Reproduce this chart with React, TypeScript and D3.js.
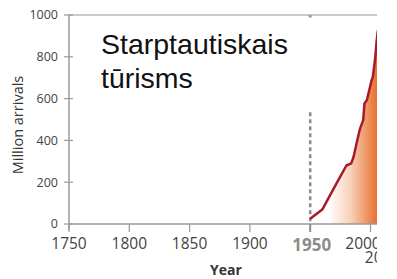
import React from "react";
import * as d3 from "d3";

const yTicks = [0, 200, 400, 600, 800, 1000];
const xTicks = [1750, 1800, 1850, 1900, 1950, 2000];
const xTickLabels = ["1750", "1800", "1850", "1900", "1950", "2000"];
const secondRowLabel = "2010";
const secondRowYear = 2010;
const years = [1950, 1960, 1970, 1980, 1984, 1986, 1989, 1991, 1994, 1995, 1997, 2000, 2001, 2002, 2004, 2005, 2006, 2008];
const arrivals = [25, 69, 175, 280, 290, 322, 400, 450, 498, 577, 593, 665, 689, 705, 800, 870, 920, 980];
const titleLines = ["Starptautiskais", "tūrisms"];
const yLabel = "Million arrivals";
const xLabel = "Year";
const markerYear = 1950;
const markerTop = 535;

const W = 397;
const H = 279;
const left = 69;
const top = 15;
const bottom = 224;
const clipRight = 377;

export default function App() {
  const x = d3.scaleLinear().domain([1750, 2000]).range([left, 370.5]);
  const y = d3.scaleLinear().domain([0, 1000]).range([bottom, top]);
  const data = years.map((yr, i) => ({ yr, v: arrivals[i] }));
  const line = d3.line<any>().x((d) => x(d.yr)).y((d) => y(d.v));
  const area = d3.area<any>().x((d) => x(d.yr)).y0(y(0)).y1((d) => y(d.v));
  const font = "'Open Sans', sans-serif";
  const axisColor = "#9a9a9a";
  return (
    <svg width={W} height={H} style={{ position: "absolute", left: 0, top: 0, background: "#fff" }}>
      <defs>
        <clipPath id="clip">
          <rect x={0} y={0} width={clipRight} height={H} />
        </clipPath>
        <linearGradient id="grad" gradientUnits="userSpaceOnUse" x1={x(1965)} x2={clipRight} y1={0} y2={0}>
          <stop offset="0" stopColor="#ffffff" />
          <stop offset="0.45" stopColor="#f9d2bb" />
          <stop offset="1" stopColor="#e8702f" />
        </linearGradient>
      </defs>
      <g clipPath="url(#clip)">
        <path d={area(data) || ""} fill="url(#grad)" />
        <line x1={left} x2={W} y1={top} y2={top} stroke="#b8b8b8" strokeWidth={1.5} />
        <rect x={x(markerYear) - 1.5} y={top} width={3} height={2.5} fill="#999" />
        <line x1={left} x2={left} y1={top} y2={bottom + 6} stroke={axisColor} strokeWidth={1.5} />
        {yTicks.map((t) => (
          <g key={t}>
            <line x1={left - 5} x2={left + 4} y1={y(t)} y2={y(t)} stroke={axisColor} strokeWidth={1.2} />
            <text x={58} y={y(t)} dy="0.35em" textAnchor="end" fontFamily={font} fontSize={12.5} fill="#444">
              {t}
            </text>
          </g>
        ))}
        <line x1={left} x2={W} y1={bottom} y2={bottom} stroke={axisColor} strokeWidth={1.5} />
        {xTicks.map((t, i) => (
          <g key={t}>
            <line x1={x(t)} x2={x(t)} y1={bottom} y2={bottom + 8} stroke={t === markerYear ? "#8a8a8a" : axisColor} strokeWidth={t === markerYear ? 2 : 1.2} />
            {t === markerYear ? (
              <text x={x(t) + 1.5} y={251} textAnchor="middle" fontFamily={font} fontWeight="bold" fontSize={17} fill="#8c8c8c">
                {xTickLabels[i]}
              </text>
            ) : (
              <text x={x(t) + (t === 2000 ? -7.5 : 0)} y={249} textAnchor="middle" fontFamily={font} fontSize={15.5} fill="#444">
                {xTickLabels[i]}
              </text>
            )}
          </g>
        ))}
        <text x={x(secondRowYear)} y={263} textAnchor="middle" fontFamily={font} fontSize={15.5} fill="#444">
          {secondRowLabel}
        </text>
        <line x1={x(markerYear)} x2={x(markerYear)} y1={y(markerTop)} y2={bottom} stroke="#8a8a8a" strokeWidth={2.5} strokeDasharray="4,3" />
        <path d={line(data) || ""} fill="none" stroke="#a8192a" strokeWidth={2.5} strokeLinejoin="round" />
        <text x={226} y={275} textAnchor="middle" fontFamily={font} fontWeight="bold" fontSize={14} fill="#333">
          {xLabel}
        </text>
        <text transform={`translate(23,${125}) rotate(-90)`} textAnchor="middle" fontFamily={font} fontSize={14.5} fill="#333">
          {yLabel}
        </text>
        {titleLines.map((l, i) => (
          <text key={i} x={101} y={54 + i * 34} fontFamily="'Liberation Sans', Arial, sans-serif" fontSize={28.5} fill="#111">
            {l}
          </text>
        ))}
      </g>
    </svg>
  );
}
